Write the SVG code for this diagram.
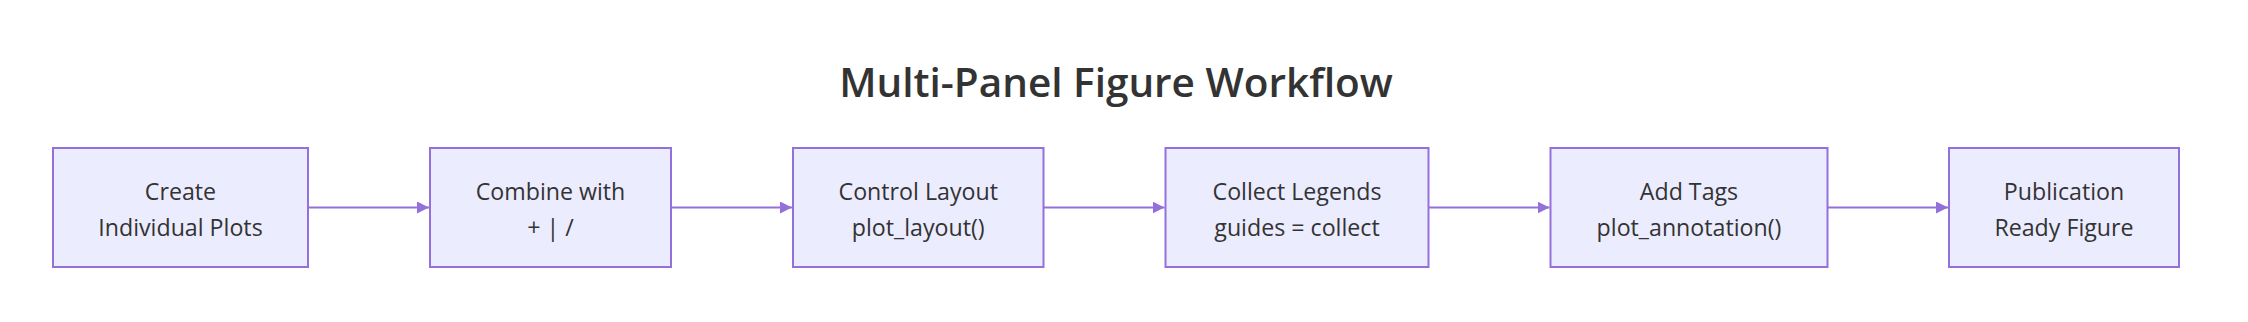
<svg xmlns="http://www.w3.org/2000/svg" width="2248" height="322" viewBox="0 0 2248 322">
<style>
.node rect{fill:#ECECFF;stroke:#9370DB;stroke-width:2;}
.node text{font-family:"Open Sans","Noto Sans","Liberation Sans",sans-serif;font-size:23.2px;fill:#333;text-anchor:middle;}
.title{font-family:"Open Sans","Noto Sans","Liberation Sans",sans-serif;font-size:40.5px;font-weight:600;fill:#333;text-anchor:middle;}
.edge{stroke:#9370DB;stroke-width:2;fill:none;}
</style>
<defs>
<marker id="arrow" viewBox="0 0 12 12" refX="12" refY="6" markerWidth="12" markerHeight="12" markerUnits="userSpaceOnUse" orient="auto">
<path d="M0,0 L12,6 L0,12 z" fill="#9370DB"/>
</marker>
</defs>
<rect width="2248" height="322" fill="#ffffff"/>
<text class="title" x="1116" y="97">Multi-Panel Figure Workflow</text>
<g id="connectors">
<line class="edge" x1="308" y1="207.5" x2="429" y2="207.5" marker-end="url(#arrow)"/>
<line class="edge" x1="671" y1="207.5" x2="792" y2="207.5" marker-end="url(#arrow)"/>
<line class="edge" x1="1043.5" y1="207.5" x2="1164.5" y2="207.5" marker-end="url(#arrow)"/>
<line class="edge" x1="1428.5" y1="207.5" x2="1549.5" y2="207.5" marker-end="url(#arrow)"/>
<line class="edge" x1="1827.5" y1="207.5" x2="1948" y2="207.5" marker-end="url(#arrow)"/>
</g>
<g id="n1" class="node"><rect x="53" y="148" width="255" height="119"/><text x="180.5" y="199.5">Create</text><text x="180.5" y="236">Individual Plots</text></g>
<g id="n2" class="node"><rect x="430" y="148" width="241" height="119"/><text x="550.5" y="199.5">Combine with</text><text x="550.5" y="236">+ | /</text></g>
<g id="n3" class="node"><rect x="793" y="148" width="250.5" height="119"/><text x="918.25" y="199.5">Control Layout</text><text x="918.25" y="236">plot_layout()</text></g>
<g id="n4" class="node"><rect x="1165.5" y="148" width="263" height="119"/><text x="1297" y="199.5">Collect Legends</text><text x="1297" y="236">guides = collect</text></g>
<g id="n5" class="node"><rect x="1550.5" y="148" width="277" height="119"/><text x="1689" y="199.5">Add Tags</text><text x="1689" y="236">plot_annotation()</text></g>
<g id="n6" class="node"><rect x="1949" y="148" width="230" height="119"/><text x="2064" y="199.5">Publication</text><text x="2064" y="236">Ready Figure</text></g>
</svg>
